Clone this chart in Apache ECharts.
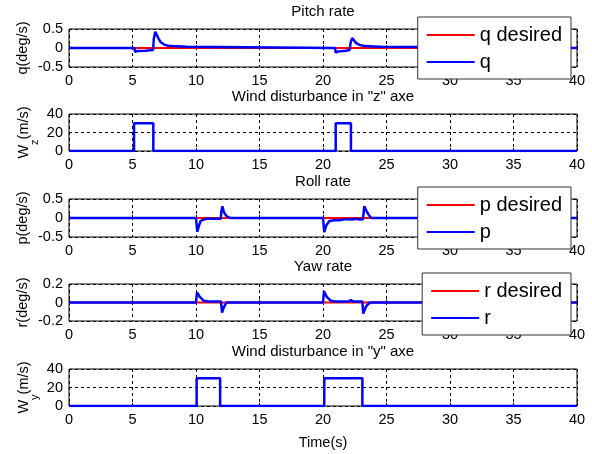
<!DOCTYPE html>
<html>
<head>
<meta charset="utf-8">
<script src="https://cdn.jsdelivr.net/npm/echarts@6/dist/echarts.min.js"></script>
<style>html,body{margin:0;padding:0;background:#fff}#c{width:592px;height:454px}</style>
</head>
<body>
<div id="c"></div>
<script>
// ---- data ----
const xTicks = [0, 5, 10, 15, 20, 25, 30, 35, 40];
const titles = ['Pitch rate', 'Wind disturbance in "z" axe', 'Roll rate', 'Yaw rate', 'Wind disturbance in "y" axe'];

// pitch rate
const qDesT = [0, 40];
const qDesV = [0, 0];
const qT = [0, 5.15, 5.2, 5.4, 6.0, 6.62, 6.68, 6.8, 6.9, 7.05, 7.2, 7.5, 7.8, 8.2, 9.3, 9.31, 20.95, 21.0, 21.2, 21.8, 22.1, 22.18, 22.3, 22.45, 22.6, 22.9, 23.3, 24.0, 24.6, 24.61, 40];
const qV = [0, 0, -0.10, -0.08, -0.07, -0.05, 0.25, 0.43, 0.40, 0.25, 0.16, 0.09, 0.06, 0.05, 0.03, 0, 0, -0.12, -0.09, -0.07, -0.05, 0.15, 0.26, 0.20, 0.13, 0.08, 0.05, 0.04, 0.03, 0, 0];

// wind z
const wzT = [0, 5.12, 5.12, 6.64, 6.64, 21.0, 21.0, 22.2, 22.2, 40];
const wzV = [0, 0, 30, 30, 0, 0, 30, 30, 0, 0];

// roll rate
const pDesT = [0, 40];
const pDesV = [0, 0];
const pT = [0, 10.0, 10.1, 10.2, 10.35, 10.6, 10.9, 11.95, 12.0, 12.08, 12.2, 12.4, 12.7, 20.0, 20.1, 20.25, 20.5, 21.0, 21.3, 21.8, 22.3, 22.6, 22.9, 23.15, 23.25, 23.4, 23.6, 23.8, 40];
const pV = [0, 0, -0.36, -0.25, -0.08, -0.04, -0.02, -0.02, 0.18, 0.31, 0.15, 0.05, 0, 0, -0.37, -0.2, -0.08, -0.05, -0.06, -0.03, -0.04, -0.02, -0.04, -0.03, 0.31, 0.2, 0.08, 0, 0];

// yaw rate
const rDesT = [0, 40];
const rDesV = [0, 0];
const rT = [0, 10.0, 10.08, 10.3, 10.6, 11.0, 11.97, 12.05, 12.2, 12.4, 20.0, 20.08, 20.3, 20.6, 21.0, 22.0, 22.2, 22.4, 23.1, 23.17, 23.4, 23.7, 40];
const rV = [0, 0, 0.11, 0.06, 0.02, 0.01, 0.01, -0.11, -0.05, 0, 0, 0.12, 0.06, 0.02, 0.01, 0.01, 0.025, 0.01, 0.01, -0.12, -0.04, 0, 0];

// wind y
const wyT = [0, 10.05, 10.05, 11.9, 11.9, 20.1, 20.1, 23.1, 23.1, 40];
const wyV = [0, 0, 30, 30, 0, 0, 30, 30, 0, 0];

const yRanges = [[-0.5, 0.5, 0.5], [0, 40, 20], [-0.5, 0.5, 0.5], [-0.2, 0.2, 0.2], [0, 40, 20]];
const yNames = ['q(deg/s)', '{m|W}{s|z}{m|(m/s)}', 'p(deg/s)', 'r(deg/s)', '{m|W}{s|y}{m|(m/s)}'];

const zip = (t, v) => t.map((x, i) => [x, v[i]]);

// ---- layout ----
const tops = [29, 114, 199, 284, 369];
const heights = [38, 37, 38, 37, 37];
const FONT = 'Liberation Sans, Arial, sans-serif';
const LBL = 14.5;

const grids = tops.map((t, i) => ({
  left: 69, width: 508, top: t, height: heights[i],
  show: true, borderColor: '#000', borderWidth: 1, backgroundColor: '#fff'
}));

const xAxes = tops.map((t, i) => ({
  type: 'value', gridIndex: i, min: 0, max: 40, interval: 5,
  axisLine: { show: false },
  axisTick: { show: true, inside: true, length: 3, lineStyle: { color: '#000' } },
  axisLabel: { color: '#000', fontSize: LBL, fontFamily: FONT, margin: 6,
    formatter: v => xTicks.includes(v) ? String(v) : '' },
  splitLine: { show: true, lineStyle: { color: '#000', type: [3, 3], width: 1 } },
  name: i === 4 ? 'Time(s)' : '', nameLocation: 'middle', nameGap: 29, nameMoveOverlap: false,
  nameTextStyle: { color: '#000', fontSize: LBL, fontFamily: FONT }
}));

const yAxes = yRanges.map((r, i) => ({
  type: 'value', gridIndex: i, min: r[0], max: r[1], interval: r[2],
  axisLine: { show: false },
  axisTick: { show: true, inside: true, length: 3, lineStyle: { color: '#000' } },
  axisLabel: { color: '#000', fontSize: LBL, fontFamily: FONT, margin: 6 },
  splitLine: { show: true, lineStyle: { color: '#000', type: [3, 3], width: 1 } },
  name: yNames[i], nameLocation: 'middle', nameGap: (i === 1 || i === 4) ? 29 : 38.5,
  nameMoveOverlap: false,
  nameTextStyle: { color: '#000', fontSize: LBL, fontFamily: FONT,
    rich: {
      m: { fontSize: LBL, fontFamily: FONT, color: '#000', lineHeight: 32, verticalAlign: 'middle' },
      s: { fontSize: 11, fontFamily: FONT, color: '#000', lineHeight: 11, verticalAlign: 'bottom' }
    } }
}));

const line = (name, data, gi, color, w, z) => ({
  name, type: 'line', xAxisIndex: gi, yAxisIndex: gi, data,
  symbol: 'none', showSymbol: false, animation: false, z,
  lineStyle: { color, width: w }, itemStyle: { color }
});

const series = [
  line('q desired', zip(qDesT, qDesV), 0, '#ff0000', 2, 2),
  line('q', zip(qT, qV), 0, '#0000ff', 2.5, 3),
  line('Wz', zip(wzT, wzV), 1, '#0000ff', 2.5, 3),
  line('p desired', zip(pDesT, pDesV), 2, '#ff0000', 2, 2),
  line('p', zip(pT, pV), 2, '#0000ff', 2.5, 3),
  line('r desired', zip(rDesT, rDesV), 3, '#ff0000', 2, 2),
  line('r', zip(rT, rV), 3, '#0000ff', 2.5, 3),
  line('Wy', zip(wyT, wyV), 4, '#0000ff', 2.5, 3)
];

const legend = (names, top) => ({
  data: names, orient: 'vertical', right: 21, top,
  backgroundColor: '#fff', borderColor: '#333', borderWidth: 1,
  padding: [8, 9, 7, 9], itemGap: 7, itemWidth: 48, itemHeight: 20,
  icon: 'path://M0,0H48V2.2H0Z',
  textStyle: { color: '#000', fontSize: 20, fontFamily: FONT },
  selectedMode: false, z: 10
});

const option = {
  animation: false,
  backgroundColor: '#fff',
  title: titles.map((t, i) => ({
    text: t, left: 323, top: tops[i] - 25, textAlign: 'center', padding: 0,
    textStyle: { color: '#000', fontSize: 15, fontWeight: 'normal', fontFamily: FONT }
  })),
  grid: grids,
  xAxis: xAxes,
  yAxis: yAxes,
  legend: [
    legend(['q desired', 'q'], 17),
    legend(['p desired', 'p'], 187),
    legend(['r desired', 'r'], 273)
  ],
  series
};

const chart = echarts.init(document.getElementById('c'), null, { renderer: 'canvas' });
chart.setOption(option);
</script>
</body>
</html>
